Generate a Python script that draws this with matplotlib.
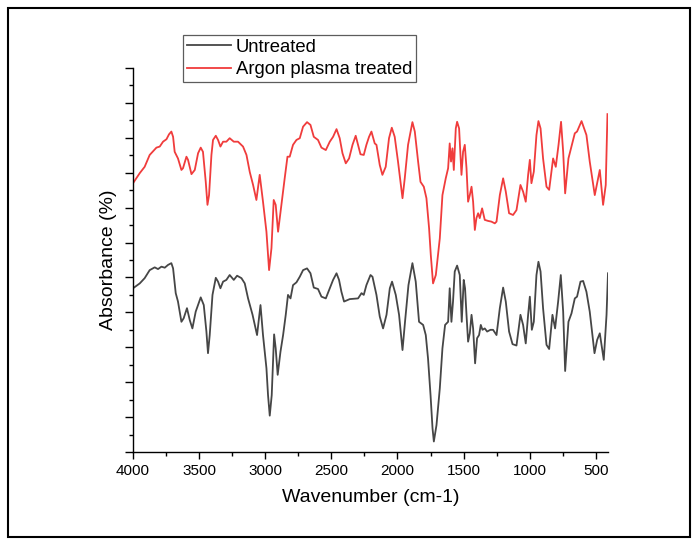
import matplotlib
matplotlib.use("Agg")
import matplotlib.pyplot as plt
from matplotlib.patches import Rectangle
from matplotlib.ticker import MultipleLocator, NullFormatter

plt.rcParams['font.family'] = ['Liberation Sans', 'DejaVu Sans']

# wavenumber (cm-1) / absorbance
wn_treated = [4000, 3949, 3912, 3874, 3823, 3798, 3773, 3747, 3728, 3710, 3697, 3685,
              3660, 3634, 3622, 3596, 3584, 3558, 3533, 3508, 3488, 3471, 3450, 3437,
              3425, 3407, 3395, 3374, 3357, 3339, 3319, 3294, 3269, 3238, 3206, 3168,
              3142, 3117, 3092, 3067, 3042, 3017, 2991, 2971, 2953, 2936, 2921, 2903,
              2878, 2853, 2832, 2815, 2790, 2764, 2739, 2714, 2684, 2658, 2633, 2601,
              2575, 2542, 2512, 2487, 2461, 2437, 2416, 2391, 2366, 2340, 2316, 2298,
              2280, 2255, 2235, 2215, 2197, 2172, 2159, 2134, 2114, 2089, 2064, 2043,
              2021, 1996, 1977, 1962, 1945, 1920, 1887, 1869, 1844, 1826, 1801, 1781,
              1761, 1748, 1731, 1710, 1680, 1660, 1635, 1617, 1605, 1595, 1584, 1574,
              1559, 1549, 1534, 1516, 1504, 1491, 1478, 1466, 1453, 1440, 1428, 1415,
              1403, 1390, 1378, 1360, 1340, 1315, 1290, 1264, 1251, 1226, 1201, 1181,
              1156, 1126, 1100, 1070, 1050, 1030, 1012, 999, 987, 969, 949, 934,
              918, 899, 873, 853, 823, 803, 782, 763, 747, 732, 707, 684,
              659, 642, 608, 571, 546, 508, 470, 445, 425, 412]
ab_treated = [77.0, 79.9, 81.7, 85.1, 87.2, 87.5, 88.9, 89.6, 91.0, 91.8, 90.3, 86.0,
              84.1, 80.8, 81.3, 84.6, 83.7, 79.6, 80.8, 85.6, 87.2, 86.0, 77.4, 70.8,
              73.6, 85.1, 89.4, 90.6, 89.4, 87.5, 88.9, 88.9, 89.9, 88.9, 88.9, 87.5,
              85.1, 80.2, 76.5, 72.2, 79.4, 71.7, 63.1, 52.1, 58.4, 72.2, 70.8, 63.1,
              70.8, 78.4, 84.6, 84.6, 88.0, 89.4, 89.9, 93.2, 94.5, 93.7, 90.3, 89.4,
              87.2, 86.5, 88.9, 90.3, 92.5, 89.9, 85.6, 82.7, 84.1, 88.0, 90.6, 88.0,
              85.3, 85.1, 88.0, 90.3, 91.8, 88.4, 88.0, 82.2, 79.4, 81.7, 89.9, 92.9,
              90.3, 83.2, 77.4, 72.7, 78.4, 88.0, 94.5, 91.8, 83.2, 77.4, 76.0, 72.7,
              64.1, 56.4, 48.3, 50.7, 61.2, 73.6, 78.4, 81.3, 88.4, 83.2, 87.0, 80.8,
              92.7, 94.6, 92.7, 79.4, 86.0, 88.0, 81.3, 71.7, 73.6, 76.0, 71.7, 63.6,
              67.0, 68.4, 67.0, 69.8, 66.5, 66.2, 66.0, 65.5, 66.0, 73.6, 78.4, 74.6,
              68.4, 67.9, 69.3, 76.5, 74.6, 71.7, 79.4, 83.7, 77.0, 80.3, 90.8, 94.8,
              92.7, 84.1, 76.0, 75.1, 84.1, 81.7, 88.0, 94.6, 86.0, 74.1, 84.1, 87.5,
              91.3, 91.8, 94.8, 90.8, 83.2, 73.6, 80.8, 70.8, 76.5, 96.8]

wn_untreated = [4000, 3949, 3912, 3874, 3836, 3811, 3785, 3760, 3735, 3710, 3697, 3677,
                3660, 3634, 3617, 3592, 3571, 3551, 3526, 3488, 3465, 3445, 3433, 3420,
                3399, 3374, 3357, 3339, 3319, 3294, 3269, 3238, 3213, 3180, 3155, 3130,
                3096, 3062, 3036, 3017, 2991, 2979, 2966, 2951, 2933, 2921, 2906, 2885,
                2865, 2845, 2828, 2809, 2790, 2764, 2739, 2714, 2684, 2658, 2633, 2601,
                2575, 2542, 2512, 2487, 2461, 2442, 2424, 2404, 2361, 2298, 2272, 2255,
                2235, 2204, 2189, 2159, 2134, 2109, 2083, 2058, 2041, 2013, 1988, 1962,
                1943, 1917, 1887, 1862, 1837, 1806, 1786, 1769, 1750, 1735, 1725, 1705,
                1680, 1660, 1640, 1617, 1605, 1592, 1580, 1567, 1549, 1529, 1514, 1499,
                1489, 1478, 1466, 1453, 1440, 1428, 1413, 1398, 1383, 1370, 1357, 1340,
                1322, 1297, 1277, 1251, 1226, 1201, 1181, 1156, 1130, 1100, 1070, 1050,
                1030, 1012, 999, 984, 969, 949, 934, 918, 899, 873, 853, 828,
                808, 785, 765, 747, 732, 707, 684, 659, 642, 616, 596, 571,
                546, 510, 490, 470, 440, 419, 408]
ab_untreated = [46.9, 48.3, 49.8, 52.1, 52.9, 52.4, 53.1, 52.8, 53.6, 54.1, 52.6, 45.5,
                43.1, 37.3, 38.3, 41.2, 37.8, 35.4, 40.2, 44.3, 42.1, 34.5, 28.3, 33.5,
                45.0, 49.9, 48.8, 46.9, 48.8, 49.3, 50.7, 49.3, 50.5, 49.8, 48.3, 44.0,
                39.3, 33.5, 42.1, 33.5, 24.0, 16.3, 10.4, 16.3, 33.7, 29.7, 22.1, 28.7,
                33.5, 39.3, 45.0, 44.0, 47.8, 48.6, 50.2, 52.1, 52.6, 51.2, 47.1, 46.7,
                44.5, 44.0, 46.9, 49.3, 51.2, 49.3, 45.9, 43.1, 43.8, 44.0, 45.5, 45.0,
                47.8, 50.7, 50.2, 45.0, 38.8, 35.4, 39.3, 46.9, 48.8, 45.0, 39.3, 29.2,
                37.3, 47.8, 54.1, 48.8, 37.3, 36.4, 33.5, 26.8, 16.3, 6.8, 3.0, 7.7,
                18.2, 29.7, 36.4, 37.3, 46.9, 37.3, 43.1, 51.7, 53.4, 50.7, 37.3, 49.3,
                46.9, 39.3, 31.6, 34.0, 39.3, 35.4, 25.4, 32.6, 33.5, 36.4, 35.0, 35.4,
                34.5, 35.0, 35.0, 33.5, 41.2, 47.1, 43.1, 34.5, 30.9, 30.5, 39.3, 36.4,
                31.1, 39.3, 44.5, 35.0, 37.3, 50.7, 54.5, 51.7, 41.2, 30.7, 29.5, 39.3,
                35.4, 43.1, 50.7, 40.2, 23.2, 37.3, 39.7, 44.0, 44.5, 48.8, 49.0, 45.9,
                40.2, 28.3, 32.1, 34.0, 26.4, 39.3, 51.2]

fig = plt.figure(figsize=(6.99, 5.40), dpi=100)
ax = fig.add_axes([0.1903, 0.163, 0.6795, 0.711])

ax.plot(wn_untreated, ab_untreated, color='#464646', lw=1.3, label='Untreated')
ax.plot(wn_treated, ab_treated, color='#f03c3c', lw=1.3, label='Argon plasma treated')

ax.set_xlim(4000, 408)
ax.set_ylim(0, 110)
ax.xaxis.set_major_locator(MultipleLocator(500))
ax.xaxis.set_minor_locator(MultipleLocator(250))
ax.yaxis.set_major_locator(MultipleLocator(10))
ax.yaxis.set_minor_locator(MultipleLocator(5))
ax.yaxis.set_major_formatter(NullFormatter())

ax.spines['top'].set_visible(False)
ax.spines['right'].set_visible(False)
for s in ('left', 'bottom'):
    ax.spines[s].set_linewidth(1.0)
ax.tick_params(which='major', direction='out', length=5, width=1.0, labelsize=11)
ax.tick_params(which='minor', direction='out', length=3, width=1.0)
ax.tick_params(axis='y', which='major', length=6)

ax.set_xlabel('Wavenumber (cm-1)', fontsize=14, labelpad=8)
ax.set_ylabel('Absorbance (%)', fontsize=14, labelpad=2)

leg = fig.legend(loc='upper left', bbox_to_anchor=(0.262, 0.935), fontsize=13.3,
                 frameon=True, fancybox=False, handlelength=2.4, handletextpad=0.25,
                 labelspacing=0.3, borderpad=0.2, borderaxespad=0)
leg.get_frame().set_edgecolor('#333333')
leg.get_frame().set_linewidth(0.9)

# outer frame round the whole figure
fig.patches.append(Rectangle((0.0114, 0.0056), 0.9757, 0.98, transform=fig.transFigure,
                             fill=False, edgecolor='black', lw=1.5))

fig.savefig('out.png', dpi=100)
